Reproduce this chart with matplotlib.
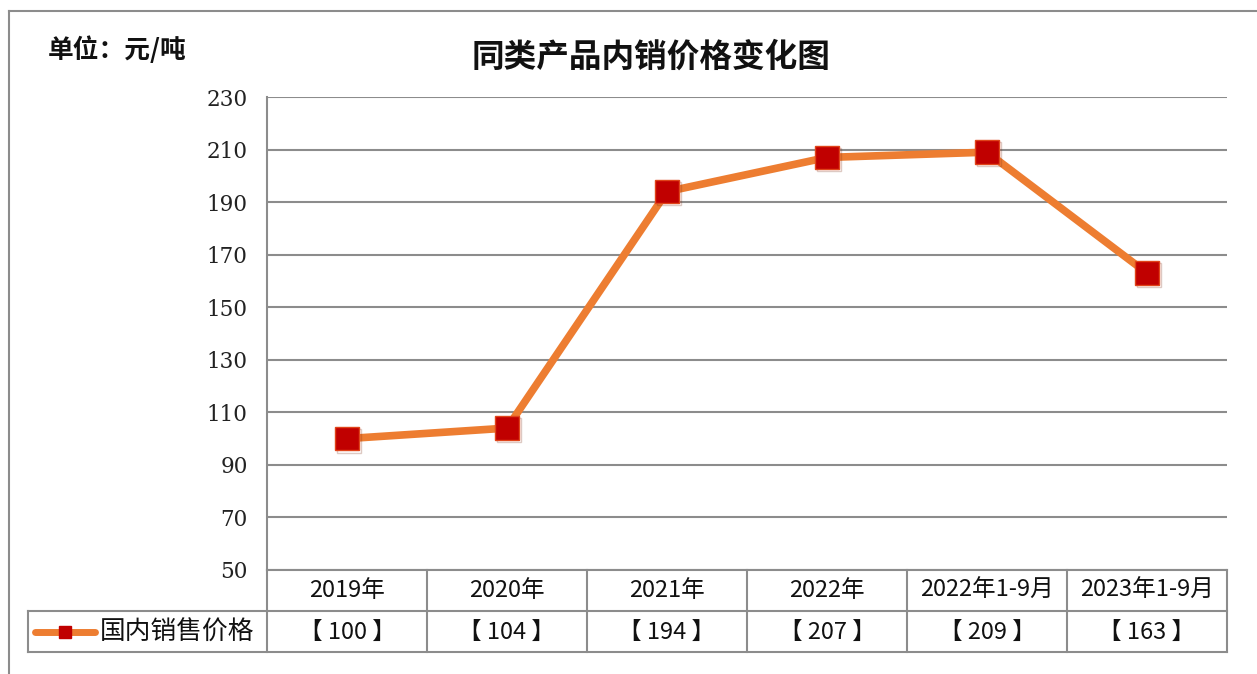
import matplotlib
matplotlib.use("Agg")
import matplotlib.pyplot as plt
import matplotlib.patheffects as pe
from matplotlib.lines import Line2D

plt.rcParams['font.family'] = ['Noto Sans CJK SC', 'DejaVu Sans']

# data
categories = ['2019年', '2020年', '2021年', '2022年', '2022年1-9月', '2023年1-9月']
prices = [100, 104, 194, 207, 209, 163]
series_name = '国内销售价格'
title = '同类产品内销价格变化图'
unit = '单位：元/吨'
yticks = list(range(50, 231, 20))

W, H = 1257, 674
ORANGE = '#ED7D31'
RED = '#C00000'
GRID = '#8c8c8c'

fig = plt.figure(figsize=(W / 100, H / 100), dpi=100)

# outer frame
fig.add_artist(Line2D([9 / W, 9 / W], [0, 1 - 11 / H], color=GRID, lw=1.5))
fig.add_artist(Line2D([9 / W, 1], [1 - 11 / H, 1 - 11 / H], color=GRID, lw=1.5))

ax = fig.add_axes([267 / W, 1 - 570 / H, 960 / W, 473 / H])
x = list(range(len(categories)))
ax.plot(x, prices, color=ORANGE, lw=5.5, solid_capstyle='round', zorder=3)
ax.plot(x, prices, ls='none', marker='s', ms=17, mfc=RED, mec='#E0441A', mew=1,
        zorder=4,
        path_effects=[pe.SimpleLineShadow(offset=(1.5, -1.5), shadow_color='#7a2a10', alpha=0.25),
                      pe.Normal()])
ax.set_xlim(-0.5, len(categories) - 0.5)
ax.set_ylim(50, 230)
ax.set_yticks(yticks)
ax.set_xticks([])
ax.yaxis.grid(True, color=GRID, lw=1.5)
ax.set_axisbelow(True)
for s in ['top', 'right', 'bottom']:
    ax.spines[s].set_visible(False)
ax.spines['left'].set_color(GRID)
ax.spines['left'].set_linewidth(1.5)
ax.tick_params(axis='y', length=0, pad=14, labelsize=15.5, colors='#222222')
for lab in ax.get_yticklabels():
    lab.set_family('DejaVu Serif')

# data table below the axis
leg_w = 239 / 160
tax = fig.add_axes([28 / W, 1 - 652 / H, (1227 - 28) / W, 82 / H])
n = len(categories)
left = -0.5 - leg_w
tax.set_xlim(left, n - 0.5)
tax.set_ylim(0, 2)
tax.axis('off')
lk = dict(color=GRID, lw=1.5, clip_on=False, solid_capstyle='projecting')
tax.plot([-0.5, n - 0.5], [2, 2], **lk)
tax.plot([left, n - 0.5], [1, 1], **lk)
tax.plot([left, n - 0.5], [0, 0], **lk)
tax.plot([left, left], [0, 1], **lk)
for i in range(n + 1):
    tax.plot([i - 0.5, i - 0.5], [0, 2], **lk)
for i, (c, v) in enumerate(zip(categories, prices)):
    tax.text(i, 1.5, c, ha='center', va='center', fontsize=17, color='#111111')
    tax.text(i, 0.48, '【 %d 】' % v, ha='center', va='center', fontsize=17, color='#111111')

# legend key
lx0 = -0.5 - (267 - 35) / 160
lx1 = -0.5 - (267 - 95) / 160
tax.plot([lx0, lx1], [0.5, 0.5], color=ORANGE, lw=5, solid_capstyle='round')
tax.plot([(lx0 + lx1) / 2], [0.5], marker='s', ms=9, mfc=RED, mec=RED)
tax.text(-0.5 - (267 - 100) / 160, 0.48, series_name, ha='left', va='center',
         fontsize=18.5, color='#111111')

fig.text(651 / W, 1 - 57 / H, title, ha='center', va='center', fontsize=23.5,
         fontweight='bold', color='#111111')
fig.text(48 / W, 1 - 50 / H, unit, ha='left', va='center', fontsize=18.5,
         fontweight='bold', color='#111111')

fig.savefig('out.png', dpi=100)
